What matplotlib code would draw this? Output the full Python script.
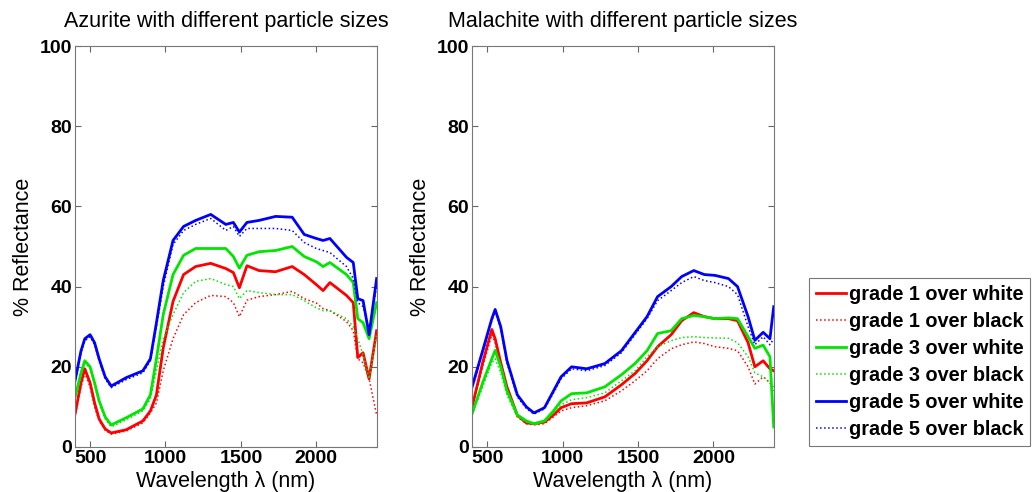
import matplotlib
matplotlib.use("Agg")
import matplotlib.pyplot as plt

plt.rcParams['font.family'] = ['Liberation Sans', 'DejaVu Sans']

# ---- Azurite panel data (wavelength in nm, % reflectance) ----
az_wl = [400, 440, 465, 500, 530, 560, 600, 640, 740, 850, 900, 940, 985, 1050, 1120,
         1200, 1300, 1400, 1450, 1490, 1540, 1620, 1730, 1840, 1920, 2000, 2045,
         2090, 2200, 2245, 2275, 2310, 2350, 2400]
az_g1_white = [8.2, 16, 19.5, 16, 11, 7, 4.5, 3.5, 4.3, 6.5, 9, 13, 24.7, 36.3, 43,
               45, 45.8, 44.5, 43.5, 39.7, 45.2, 44, 43.7, 45, 43, 40.5, 39,
               41, 37.8, 36, 22.3, 23.5, 17, 29]
az_g1_black = [7.5, 15, 18.5, 15, 10, 6.5, 4.2, 3.2, 4, 6, 8.5, 11, 19, 27, 33,
               36, 37.8, 37.5, 36, 32.5, 36.6, 37.5, 38, 38.8, 37, 35.9, 34.5,
               34, 31.3, 29, 22, 21, 17, 8]
az_g3_white = [12.3, 18.5, 21.5, 20, 16, 11.5, 7.5, 5.5, 7.3, 9.5, 13, 22, 33, 43, 47.8,
               49.5, 49.5, 49.5, 47.5, 44.6, 47.8, 48.7, 49, 50, 47.5, 46.2, 45,
               46, 43, 41, 32, 31, 27, 36]
az_g3_black = [12, 18, 21, 19.5, 15.5, 11, 7, 5, 6.8, 9, 12, 19, 27, 33, 38.5,
               41.3, 42, 40.5, 40, 37, 39, 38.5, 38, 38, 36.5, 34.7, 34,
               34, 32, 30, 27, 23, 17, 28]
az_g5_white = [16.5, 24, 27, 28, 26, 22, 17.5, 15.2, 17.3, 19, 22, 31, 41.5, 51.5, 55,
               56.5, 58, 55.5, 56, 53.6, 56, 56.5, 57.5, 57.3, 53, 52, 51.5,
               52, 47.3, 46, 37, 36.5, 28, 42]
az_g5_black = [16, 23.5, 26.5, 27.5, 25.5, 21.5, 17, 14.8, 16.8, 18.5, 21.5, 30, 40, 50.5, 54,
               55.5, 57, 54, 55, 52.5, 54.5, 54.5, 54.5, 54, 51, 49.5, 49,
               48.5, 45, 42, 36, 35, 29.5, 40]

# ---- Malachite panel data ----
ma_wl = [400, 470, 531, 553, 590, 631, 700, 760, 810, 880, 940, 990, 1060, 1160,
         1280, 1390, 1480, 1560, 1630, 1720, 1790, 1870, 1940, 2010, 2100, 2160,
         2230, 2275, 2330, 2375, 2400]
ma_g1_white = [10, 21, 29.3, 27, 21, 15, 7.9, 6, 5.8, 6.2, 8, 9.8, 10.8, 11,
               12.5, 15.5, 18.3, 21.5, 25, 28, 31.5, 33.5, 32.5, 32, 32, 31.5,
               26, 20, 21.5, 19.5, 19]
ma_g1_black = [9.5, 20, 28, 26, 20, 14.5, 7.5, 5.8, 5.5, 5.8, 7.5, 9, 9.8, 10.3,
               11.5, 14, 16.5, 19, 22, 24.5, 25.5, 26.2, 25.8, 25, 24.6, 24,
               20, 15.7, 17.5, 16, 14]
ma_g3_white = [8.3, 16, 22, 24.1, 20, 14, 8, 6.5, 5.8, 6.5, 9, 11.5, 13.3, 13.5,
               15, 18, 20.8, 24, 28.3, 29, 32, 32.8, 32.5, 32, 32.2, 32,
               27.5, 24.6, 25.4, 22.5, 5]
ma_g3_black = [8, 15, 21, 22, 18.5, 13, 7.5, 6.2, 5.6, 6.2, 8.5, 10.5, 11.8, 12.3,
               13.5, 16.5, 19, 22.5, 25, 26.5, 27.3, 27.5, 27.3, 27.2, 27.1, 26,
               22.5, 18.5, 17.5, 16, 15]
ma_g5_white = [15, 24, 32, 34.3, 30, 21.6, 13, 10, 8.5, 9.8, 14, 17.5, 20, 19.5,
               20.8, 24, 28.5, 32.5, 37.5, 40, 42.5, 44, 43, 42.8, 42, 40,
               32.5, 26.6, 28.6, 27, 35]
ma_g5_black = [14.5, 23.5, 31.5, 33.8, 29.5, 21, 12.5, 9.6, 8.2, 9.5, 13.5, 17, 19.5, 19,
               20.3, 23.5, 28, 32, 36.5, 39, 41, 42.5, 41.5, 41, 40, 38,
               30, 25.5, 27.5, 25.5, 27]

labels = ["grade 1 over white", "grade 1 over black",
          "grade 3 over white", "grade 3 over black",
          "grade 5 over white", "grade 5 over black"]
colors = ["#ff0000", "#ff0000", "#00e600", "#00e600", "#0000ff", "#0000ff"]
styles = ["-", ":", "-", ":", "-", ":"]

panels = [
    ("Azurite with different particle sizes", az_wl,
     [az_g1_white, az_g1_black, az_g3_white, az_g3_black, az_g5_white, az_g5_black]),
    ("Malachite with different particle sizes", ma_wl,
     [ma_g1_white, ma_g1_black, ma_g3_white, ma_g3_black, ma_g5_white, ma_g5_black]),
]

fig = plt.figure(figsize=(10.33, 4.92), dpi=100)
ax_left = [0.0726, 0.457]

handles = []
for (title, wl, series), left in zip(panels, ax_left):
    ax = fig.add_axes([left, 0.0915, 0.292, 0.815])
    handles = []
    for vals, c, ls, lab in zip(series, colors, styles, labels):
        lw = 2.0 if ls == "-" else 1.1
        h, = ax.plot(wl, vals, color=c, linestyle=ls, linewidth=lw, label=lab)
        handles.append(h)
    ax.set_xlim(400, 2400)
    ax.set_ylim(0, 100)
    ax.set_xticks([500, 1000, 1500, 2000])
    ax.set_yticks([0, 20, 40, 60, 80, 100])
    ax.tick_params(direction="in", length=4, top=True, right=True,
                   labelsize=14, pad=2, color="#666666")
    for lbl in ax.get_xticklabels() + ax.get_yticklabels():
        lbl.set_fontweight("bold")
    for sp in ax.spines.values():
        sp.set_color("#777777")
        sp.set_linewidth(0.8)
    ax.set_title(title, fontsize=15.5, pad=14)
    ax.set_xlabel("Wavelength \u03bb (nm)", fontsize=15.5, labelpad=3)
    ax.set_ylabel("% Reflectance", fontsize=15.5, labelpad=4)

leg = fig.legend(handles=handles, loc="lower left",
                 bbox_to_anchor=(809 / 1033, 1 - 446 / 492),
                 prop={"weight": "bold", "size": 14.3},
                 handlelength=1.5, handletextpad=0.15, labelspacing=0.4,
                 borderpad=0.35, borderaxespad=0, fancybox=False, framealpha=1)
leg.get_frame().set_edgecolor("#777777")
leg.get_frame().set_linewidth(0.8)

fig.savefig("out.png", dpi=100)
